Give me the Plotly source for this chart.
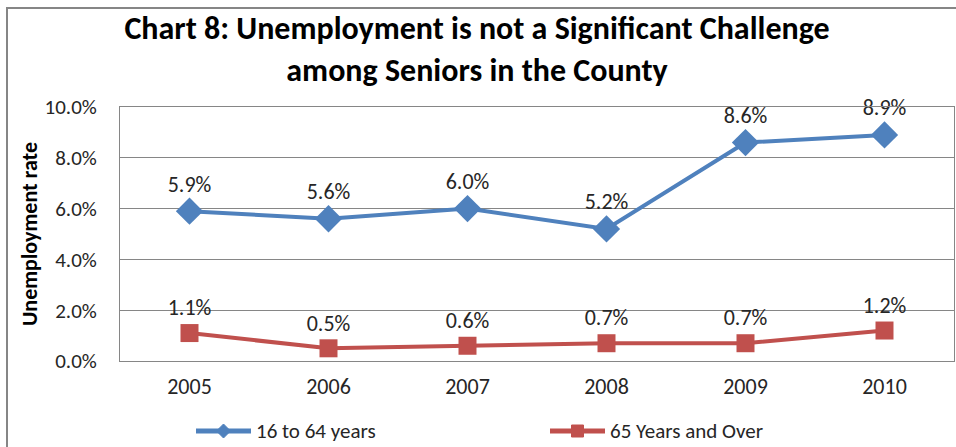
import plotly.graph_objects as go

years = ["2005", "2006", "2007", "2008", "2009", "2010"]
working_age = [5.9, 5.6, 6.0, 5.2, 8.6, 8.9]
seniors = [1.1, 0.5, 0.6, 0.7, 0.7, 1.2]
series_names = ["16 to 64 years", "65 Years and Over"]
series_colors = ["#4F81BD", "#C0504D"]
tick_vals = [0, 2, 4, 6, 8, 10]
tick_text = ["0.0%", "2.0%", "4.0%", "6.0%", "8.0%", "10.0%"]

FONT = "Carlito, Calibri, Lato, sans-serif"
TXT = "#262626"
W, H = 956, 447
L, R, T, B = 120, 2, 107, 86
pw, ph = W - L - R, H - T - B


def px(wx):  # pixel x -> paper x
    return (wx - L) / pw


def py(wy):  # pixel y -> paper y
    return (T + ph - wy) / ph


fig = go.Figure()
fig.add_trace(go.Scatter(
    x=years, y=working_age, name=series_names[0], mode="lines+markers+text",
    line=dict(color=series_colors[0], width=4),
    marker=dict(symbol="diamond", size=21, color=series_colors[0]),
    text=[f"{v:.1f}%" for v in working_age], textposition="top center",
    textfont=dict(family=FONT, size=22, color=TXT), cliponaxis=False,
))
fig.add_trace(go.Scatter(
    x=years, y=seniors, name=series_names[1], mode="lines+markers+text",
    line=dict(color=series_colors[1], width=4),
    marker=dict(symbol="square", size=18, color=series_colors[1]),
    text=[f"{v:.1f}%" for v in seniors], textposition="top center",
    textfont=dict(family=FONT, size=22, color=TXT), cliponaxis=False,
))

fig.update_layout(
    width=W, height=H,
    margin=dict(l=L, r=R, t=T, b=B, autoexpand=False),
    paper_bgcolor="white", plot_bgcolor="white",
    showlegend=False,
    title=dict(
        text="<b>Chart 8: Unemployment is not a Significant Challenge<br>among Seniors in the County</b>",
        x=477 / W, xanchor="center", y=1 - 39 / H, yanchor="middle",
        font=dict(family=FONT, size=32, color="black"),
    ),
    font=dict(family=FONT, size=21, color=TXT),
    xaxis=dict(
        type="category", showgrid=False, showline=True, linecolor="#868686",
        mirror=True, ticks="", tickfont=dict(size=22, color=TXT),
        range=[-0.5, 5.5], ticklabelstandoff=6,
    ),
    yaxis=dict(
        range=[0, 10], tickvals=tick_vals, ticktext=tick_text,
        showgrid=True, gridcolor="#868686", gridwidth=1,
        showline=True, linecolor="#868686", mirror=True,
        zeroline=False, ticks="", ticklabelstandoff=18,
        tickfont=dict(size=21, color=TXT),
        title=dict(text="<b>Unemployment rate</b>", font=dict(size=22, color="black"), standoff=0),
    ),
)

# outer chart border
fig.add_shape(
    type="rect", xref="paper", yref="paper",
    x0=px(7), x1=px(980), y0=py(470), y1=py(8),
    line=dict(color="#868686", width=2), layer="below",
)

# custom legend (line + marker + text) matching the reference layout
legend_y = 431
legend_items = [
    (series_names[0], series_colors[0], 196, 251, "M0,7L7,0L0,-7L-7,0Z"),
    (series_names[1], series_colors[1], 550, 605, "M-6,-6L6,-6L6,6L-6,6Z"),
]
for name, color, x0, x1, path in legend_items:
    fig.add_shape(type="line", xref="paper", yref="paper",
                  x0=px(x0), x1=px(x1), y0=py(legend_y), y1=py(legend_y),
                  line=dict(color=color, width=5))
    fig.add_shape(type="path", xref="paper", yref="paper",
                  xsizemode="pixel", ysizemode="pixel",
                  xanchor=px((x0 + x1) / 2), yanchor=py(legend_y),
                  path=path, fillcolor=color, line=dict(color=color, width=1))
    fig.add_annotation(xref="paper", yref="paper", x=px(x1 + 3), y=py(legend_y),
                       xanchor="left", yanchor="middle", showarrow=False,
                       text=name, font=dict(family=FONT, size=21, color=TXT))

fig.write_html("out.html", config={"displayModeBar": False},
               post_script="document.body.style.margin='0';")
